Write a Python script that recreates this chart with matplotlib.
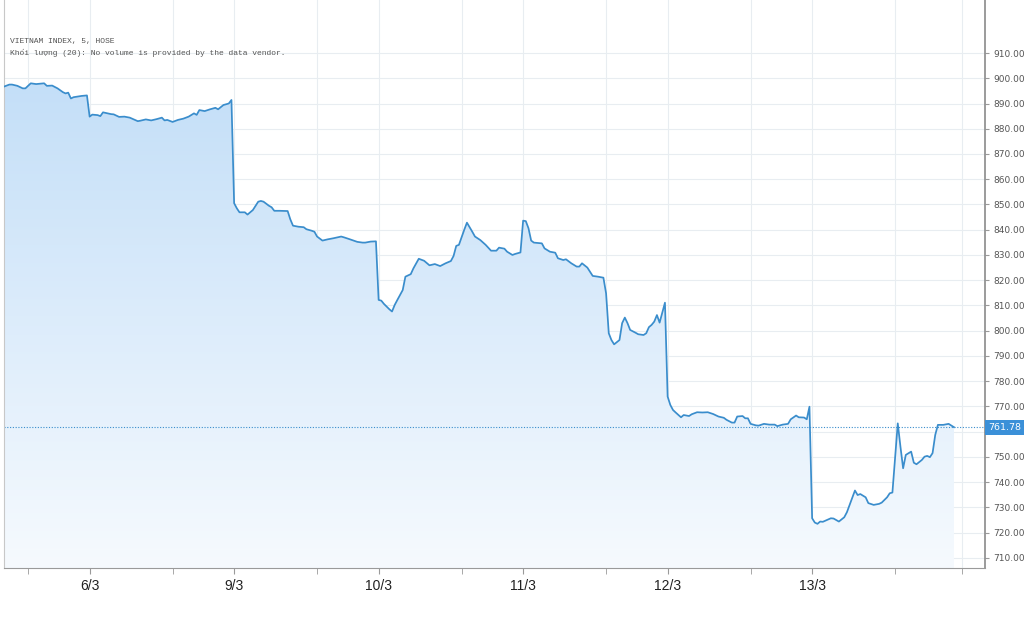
import numpy as np
import matplotlib
matplotlib.use("Agg")
import matplotlib.pyplot as plt
import matplotlib.transforms as mtransforms
from matplotlib.colors import LinearSegmentedColormap
from matplotlib.patches import Polygon

# 5-minute bars of VN-Index (bar number since start of window, close)
bars = [0, 2, 3, 5, 7, 8, 10, 12, 15, 16, 18, 20, 22, 23, 24, 25, 26, 29, 31,
        # 6/3
        32, 33, 35, 36, 37, 40, 41, 43, 45, 47, 50, 51, 53, 55, 57, 59, 60, 61,
        63, 65, 67, 69, 71, 72, 73, 75, 77, 79, 80, 82, 84, 85,
        # 9/3
        86, 87, 88, 90, 91, 93, 95, 96, 97, 99, 100, 101, 103, 106, 107, 108,
        110, 112, 113, 115, 116, 117, 119, 121, 123, 126, 127, 129, 132, 134,
        135, 137, 139,
        # 10/3
        140, 141, 142, 144, 145, 146, 147, 149, 150, 152, 153, 155, 157, 159,
        161, 163, 165, 167, 168, 169, 170, 172, 173, 175, 176, 178, 180, 182,
        184, 185, 187, 188, 190, 191, 193,
        # 11/3
        194, 195, 196, 197, 198, 201, 202, 204, 206, 207, 209, 210, 212, 214,
        215, 216, 218, 220, 222, 224, 225, 226, 227, 228, 230, 231, 232, 233,
        234, 236, 237, 239, 240, 241, 242, 243, 244, 245, 247,
        # 12/3
        248, 249, 250, 251, 253, 254, 256, 257, 259, 261, 263, 265, 267, 269,
        270, 272, 273, 274, 276, 277, 278, 279, 281, 282, 284, 286, 288, 289,
        291, 293, 294, 296, 297, 299, 300, 301,
        # 13/3
        302, 303, 304, 305, 306, 309, 310, 312, 314, 315, 316, 318, 319, 320,
        322, 323, 325, 327, 328, 330, 331, 332, 334, 335, 336, 337, 339, 340,
        341, 343, 344, 345, 346, 347, 348, 349, 351, 353, 355]

closes = [896.7, 897.5, 897.5, 897.0, 896.0, 896.0, 898.0, 897.7, 898.0, 897.0,
          897.1, 896.0, 894.5, 894.0, 894.3, 892.0, 892.5, 893.0, 893.2,
          # 6/3
          884.8, 885.6, 885.4, 885.0, 886.5, 885.8, 885.7, 884.7, 884.8, 884.4,
          883.0, 883.2, 883.7, 883.3, 883.8, 884.4, 883.3, 883.5, 882.7, 883.5,
          884.0, 884.8, 886.1, 885.5, 887.4, 887.0, 887.7, 888.3, 887.7, 889.4,
          890.0, 891.4,
          # 9/3
          850.5, 848.5, 846.9, 846.9, 846.0, 847.8, 851.1, 851.4, 851.1, 849.5,
          848.9, 847.5, 847.5, 847.4, 844.1, 841.6, 841.2, 841.0, 840.2, 839.6,
          839.2, 837.3, 835.7, 836.2, 836.6, 837.3, 837.0, 836.3, 835.2, 834.9,
          834.9, 835.3, 835.4,
          # 10/3
          812.2, 811.9, 810.6, 808.5, 807.6, 810.2, 812.2, 816.1, 821.4, 822.4,
          824.7, 828.5, 827.7, 825.9, 826.4, 825.6, 826.7, 827.6, 829.6, 833.6,
          834.0, 840.0, 842.8, 839.2, 837.3, 835.9, 834.0, 831.7, 831.7, 832.9,
          832.5, 831.3, 830.0, 830.4, 831.0,
          # 11/3
          843.6, 843.4, 840.6, 835.7, 834.9, 834.6, 832.6, 831.3, 830.9, 828.7,
          828.0, 828.3, 826.7, 825.4, 825.4, 826.7, 825.0, 821.7, 821.4, 821.0,
          814.8, 799.0, 796.3, 794.6, 796.3, 803.0, 805.2, 803.0, 800.3, 799.2,
          798.6, 798.3, 799.0, 801.4, 802.3, 803.6, 806.2, 803.2, 811.1,
          # 12/3
          773.9, 770.6, 768.6, 767.6, 765.7, 766.6, 766.2, 766.9, 767.7, 767.6,
          767.7, 767.0, 766.0, 765.5, 764.7, 763.6, 763.6, 766.0, 766.2, 765.3,
          765.3, 763.1, 762.5, 762.4, 763.1, 762.8, 762.8, 762.2, 762.8, 763.1,
          764.9, 766.4, 765.7, 765.6, 764.9, 769.9,
          # 13/3
          725.7, 724.0, 723.5, 724.4, 724.3, 725.7, 725.6, 724.4, 726.1, 728.1,
          731.0, 736.7, 734.9, 735.3, 734.0, 731.7, 731.0, 731.4, 731.9, 734.0,
          735.6, 735.9, 763.3, 754.1, 745.5, 750.8, 752.1, 747.7, 747.1, 748.8,
          750.1, 750.4, 749.9, 751.5, 758.7, 762.7, 762.7, 763.1, 761.78]

day_start = [32, 86, 140, 194, 248, 302]
day_labels = ['6/3', '9/3', '10/3', '11/3', '12/3', '13/3']
lunch_break = [9, 63, 117, 171, 225, 279, 333, 358]
last_price = 761.78
y_ticks = list(range(710, 920, 10))

line_col = '#3a8dcc'
grid_col = '#e8edf1'

fig = plt.figure(figsize=(10.24, 6.19), dpi=100)
ax = fig.add_axes([4 / 1024, 1 - 568 / 619, (985 - 4) / 1024, 568 / 619])

x = np.array(bars, dtype=float)
y = np.array(closes)
ax.set_xlim(0, 366.6)
ax.set_ylim(706.0, 931.0)

# gradient area under the line
cmap = LinearSegmentedColormap.from_list('fill', ['#f6fafe', '#c4dff8'])
grad = np.linspace(0, 1, 256).reshape(-1, 1)
im = ax.imshow(grad, cmap=cmap, origin='lower', aspect='auto',
               extent=[x[0], x[-1], 706.0, y.max()], zorder=1)
verts = np.vstack([[x[0], 706.0], np.column_stack([x, y]), [x[-1], 706.0]])
poly = Polygon(verts, closed=True, facecolor='none', edgecolor='none')
ax.add_patch(poly)
im.set_clip_path(poly)

ax.plot(x, y, color=line_col, lw=1.25, zorder=3)
ax.axhline(last_price, color=line_col, lw=0.8, ls=(0, (1, 1.5)), zorder=2)

# grid
for v in y_ticks:
    ax.axhline(v, color=grid_col, lw=0.8, zorder=0)
for b in day_start + lunch_break:
    ax.axvline(b, color=grid_col, lw=0.8, zorder=0)

ax.set_xticks(day_start)
ax.set_xticklabels(day_labels, fontsize=10, color='#222222', family='Liberation Sans')
ax.set_xticks(lunch_break, minor=True)
ax.tick_params(axis='x', which='both', length=4, color='#9a9a9a', pad=4)

# the 760 label sits under the last-price box, as on the source chart
ax.yaxis.tick_right()
ax.set_yticks(y_ticks)
ax.set_yticklabels(['' if v == 760 else '%.2f' % v for v in y_ticks],
                   fontsize=6.5, color='#555555')
ax.tick_params(axis='y', length=3, color='#9a9a9a', pad=3)

ax.spines['top'].set_visible(False)
ax.spines['left'].set_color('#c8c8c8')
ax.spines['bottom'].set_color('#9a9a9a')
ax.spines['right'].set_color('#8a8a8a')
ax.spines['right'].set_linewidth(1.2)

# last price label on the scale
trans = mtransforms.blended_transform_factory(ax.transAxes, ax.transData)
ax.text(1.003, last_price, '761.78', transform=trans, fontsize=6.8, color='white',
        va='center', ha='left', zorder=10, clip_on=False,
        bbox=dict(boxstyle='square,pad=0.3', facecolor='#3b90d8', edgecolor='none'))

# header
mono = ['Liberation Mono', 'DejaVu Sans Mono', 'DejaVu Sans']
ax.text(0.006, 0.925, 'VIETNAM INDEX, 5, HOSE', transform=ax.transAxes,
        fontsize=5.8, color='#555555', family=mono)
ax.text(0.006, 0.903, 'Khối lượng (20): No volume is provided by the data vendor.',
        transform=ax.transAxes, fontsize=5.8, color='#555555', family=mono)

fig.savefig('out.png', dpi=100, facecolor='white')
